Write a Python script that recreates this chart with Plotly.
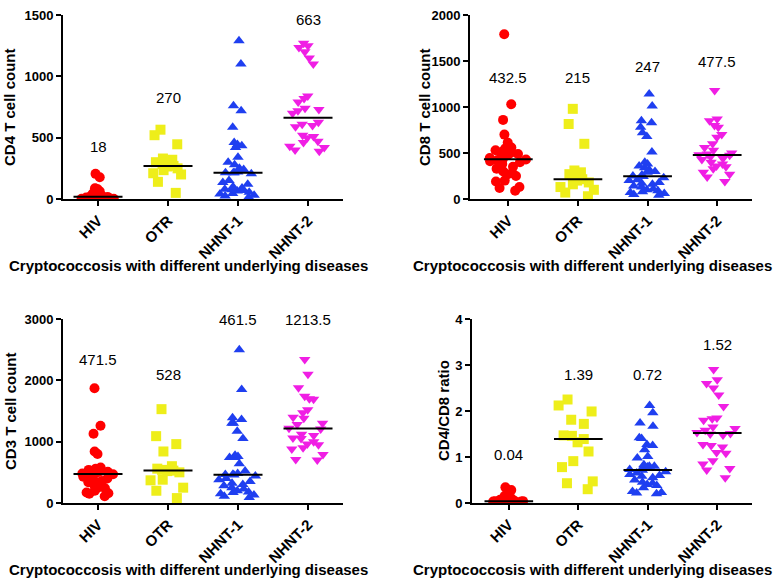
import numpy as np
import plotly.graph_objects as go
from plotly.subplots import make_subplots

groups = ["HIV", "OTR", "NHNT-1", "NHNT-2"]

# CD4 T cell count
cd4_hiv = [205, 178, 88, 84, 80, 62, 55, 50, 45, 38, 32, 28, 25, 22, 20, 19, 17, 15, 12, 10, 9, 8, 7, 6, 5, 4, 4, 3, 2, 2, 1, 1]
cd4_otr = [565, 520, 446, 330, 320, 300, 285, 270, 265, 250, 235, 210, 200, 140, 50]
cd4_nhnt1 = [1290, 1100, 760, 720, 585, 460, 445, 435, 420, 340, 300, 280, 250, 240, 220, 215, 214, 214, 205, 150,
             135, 120, 100, 90, 80, 75, 70, 65, 55, 45, 40, 30, 25, 15]
cd4_nhnt2 = [1270, 1250, 1235, 1200, 1150, 1100, 840, 820, 790, 740, 730, 720, 700, 626, 610, 600, 590, 520, 510,
             500, 470, 460, 430, 420, 400, 390]

# CD8 T cell count
cd8_hiv = [1790, 1030, 860, 700, 615, 560, 550, 540, 530, 520, 500, 490, 480, 460, 445, 435, 430, 420, 410, 400,
           380, 350, 330, 300, 280, 270, 250, 200, 190, 130, 120, 90]
cd8_otr = [980, 815, 600, 310, 290, 270, 240, 215, 200, 180, 160, 130, 100, 70, 30]
cd8_nhnt1 = [1140, 1010, 850, 830, 780, 720, 680, 510, 400, 380, 360, 340, 320, 300, 290, 260, 250, 244, 230, 210,
             200, 180, 170, 160, 140, 130, 110, 100, 90, 80, 70, 60, 50, 40]
cd8_nhnt2 = [1180, 870, 850, 800, 780, 700, 670, 600, 560, 530, 500, 490, 480, 475, 460, 440, 430, 400, 380, 360,
             350, 330, 290, 270, 240, 190]

# CD3 T cell count
cd3_hiv = [1870, 1260, 1130, 840, 800, 580, 560, 550, 540, 530, 520, 510, 500, 490, 480, 475, 468, 450, 430, 400,
           380, 360, 340, 300, 280, 250, 240, 200, 170, 160, 150, 110]
cd3_otr = [1530, 1090, 960, 840, 600, 560, 540, 528, 520, 500, 380, 370, 250, 200, 80]
cd3_nhnt1 = [2500, 1850, 1390, 1360, 1300, 1300, 1170, 1050, 780, 760, 740, 740, 640, 520, 480, 470, 465, 458, 440,
             400, 380, 350, 320, 300, 280, 250, 230, 200, 180, 170, 150, 130, 110, 90]
cd3_nhnt2 = [2340, 2100, 1880, 1740, 1700, 1690, 1520, 1470, 1400, 1380, 1300, 1280, 1220, 1207, 1120, 1100, 1060,
             1050, 1000, 960, 950, 900, 880, 790, 710, 700]

# CD4/CD8 ratio
ratio_hiv = [0.34, 0.28, 0.15, 0.12, 0.11, 0.1, 0.09, 0.08, 0.07, 0.06, 0.06, 0.05, 0.05, 0.05, 0.04, 0.04, 0.04,
             0.04, 0.03, 0.03, 0.03, 0.02, 0.02, 0.02, 0.02, 0.01, 0.01, 0.01, 0.01, 0.01, 0.01, 0.0]
ratio_otr = [2.25, 2.12, 1.99, 1.81, 1.72, 1.47, 1.46, 1.39, 1.32, 1.12, 0.91, 0.78, 0.47, 0.43, 0.30]
ratio_nhnt1 = [2.12, 1.96, 1.74, 1.67, 1.42, 1.40, 1.27, 1.25, 1.16, 1.01, 0.98, 0.83, 0.80, 0.80, 0.78, 0.75, 0.73,
               0.71, 0.68, 0.65, 0.62, 0.60, 0.58, 0.55, 0.50, 0.45, 0.43, 0.40, 0.38, 0.33, 0.25, 0.23, 0.22, 0.20]
ratio_nhnt2 = [2.90, 2.68, 2.60, 2.50, 2.35, 2.10, 1.85, 1.83, 1.80, 1.65, 1.62, 1.58, 1.53, 1.51, 1.50, 1.48, 1.27,
               1.25, 1.22, 1.10, 1.08, 0.92, 0.85, 0.75, 0.72, 0.55]

panels = [
    ("CD4 T cell count", [cd4_hiv, cd4_otr, cd4_nhnt1, cd4_nhnt2], 1500, 500),
    ("CD8 T cell count", [cd8_hiv, cd8_otr, cd8_nhnt1, cd8_nhnt2], 2000, 500),
    ("CD3 T cell count", [cd3_hiv, cd3_otr, cd3_nhnt1, cd3_nhnt2], 3000, 1000),
    ("CD4/CD8 ratio", [ratio_hiv, ratio_otr, ratio_nhnt1, ratio_nhnt2], 4, 1),
]

# where the median labels sit (data units), per panel
label_y = [
    [430, 830, 1538, 1465],
    [1320, 1320, 1435, 1500],
    [2336, 2092, 2988, 2988],
    [1.05, 2.79, 2.79, 3.44],
]

colors = ["#ff0000", "#eeee1a", "#1f3ff0", "#f01ee4"]
symbols = ["circle", "square", "triangle-up", "triangle-down"]

W, H = 780, 580
# plot areas in pixels: (left, right, top, bottom)
boxes = [(63, 343, 15, 199), (470, 752, 15, 199), (63, 343, 319, 503), (472, 752, 319, 503)]
xranges = [[-0.5, 3.5], [-0.55, 3.5], [-0.5, 3.5], [-0.53, 3.5]]
xtitle_x = [188, 592, 188, 592]
ytitle_x = [10, 425, 10, 443]


def px(x):
    return x / W


def py(y):
    return 1 - y / H


FONT = "Liberation Sans, Arial, sans-serif"

fig = make_subplots(rows=2, cols=2)
annotations = []

for p, (ytitle, data, ymax, dtick) in enumerate(panels):
    row, col = p // 2 + 1, p % 2 + 1
    for i, vals in enumerate(data):
        fig.add_trace(go.Box(
            x=[i] * len(vals), y=vals, boxpoints="all", jitter=1.0, pointpos=0, width=0.62,
            fillcolor="rgba(0,0,0,0)", line=dict(width=0, color="rgba(0,0,0,0)"),
            marker=dict(color=colors[i], symbol=symbols[i], size=10, line=dict(width=0)),
            showlegend=False, hoverinfo="y",
        ), row=row, col=col)
        m = float(np.median(vals))
        fig.add_trace(go.Scatter(
            x=[i - 0.35, i + 0.35], y=[m, m], mode="lines",
            line=dict(color="black", width=2), showlegend=False, hoverinfo="skip",
        ), row=row, col=col)
        annotations.append(dict(
            x=i, y=label_y[p][i], xref=f"x{p + 1 if p else ''}", yref=f"y{p + 1 if p else ''}",
            text=f"{round(m, 2):g}", showarrow=False, xanchor="center", yanchor="middle",
            font=dict(size=15, color="black", family=FONT),
        ))

    l, r, t, b = boxes[p]
    fig.update_xaxes(
        domain=[px(l), px(r)], range=xranges[p], tickvals=[0, 1, 2, 3], ticktext=groups, tickangle=-45,
        showline=True, linecolor="black", linewidth=2, ticks="outside", ticklen=5, tickwidth=2,
        tickcolor="black", showgrid=False, zeroline=False, automargin=False,
        tickfont=dict(size=15, color="black", family=FONT, weight="bold"),
        row=row, col=col,
    )
    fig.update_yaxes(
        domain=[py(b), py(t)], range=[0, ymax], dtick=dtick, showline=True, linecolor="black", linewidth=2,
        ticks="outside", ticklen=5, tickwidth=2, tickcolor="black", showgrid=False, zeroline=False,
        automargin=False, ticklabeloverflow="allow",
        tickfont=dict(size=13, color="black", family=FONT, weight="bold"),
        row=row, col=col,
    )
    annotations.append(dict(
        x=px(xtitle_x[p]), y=py(b + 66), xref="paper", yref="paper",
        xanchor="center", yanchor="middle",
        text="<b>Cryptococcosis with different underlying diseases</b>", showarrow=False,
        font=dict(size=15, color="black", family=FONT),
    ))
    annotations.append(dict(
        x=px(ytitle_x[p]), y=py((t + b) / 2), xref="paper", yref="paper",
        xanchor="center", yanchor="middle",
        text=f"<b>{ytitle}</b>", showarrow=False, textangle=-90,
        font=dict(size=15, color="black", family=FONT),
    ))

fig.update_layout(
    template="none",
    width=W, height=H, margin=dict(l=0, r=0, t=0, b=0),
    paper_bgcolor="white", plot_bgcolor="white",
    annotations=annotations, boxmode="overlay",
)

# drop the browser's default body margin so the figure sits at the window's corner
fig.write_html("out.html", config={"displayModeBar": False},
               post_script="document.body.style.margin='0';")
